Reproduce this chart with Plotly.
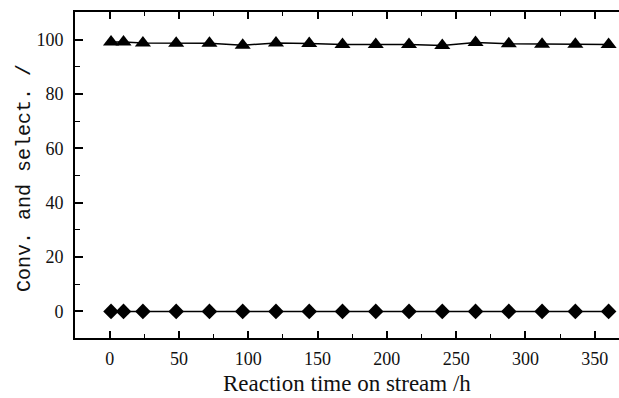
import plotly.graph_objects as go

time_h = [1, 10, 24, 48, 72, 96, 120, 144, 168, 192, 216, 240, 264, 288, 312, 336, 360]
selectivity = [99.2, 99.2, 98.8, 98.7, 98.7, 98.0, 98.8, 98.6, 98.2, 98.2, 98.2, 97.9, 99.0, 98.5, 98.3, 98.3, 98.2]
conversion = [0, 0, 0, 0, 0, 0, 0, 0, 0, 0, 0, 0, 0, 0, 0, 0, 0]
x_ticks = [0, 50, 100, 150, 200, 250, 300, 350]
y_ticks = [0, 20, 40, 60, 80, 100]

fig = go.Figure()
fig.add_trace(go.Scatter(
    x=time_h, y=selectivity, mode="lines+markers",
    line=dict(color="black", width=1.5),
    marker=dict(symbol="triangle-up", size=14, color="black"),
    showlegend=False, cliponaxis=False))
fig.add_trace(go.Scatter(
    x=time_h, y=conversion, mode="lines+markers",
    line=dict(color="black", width=1.5),
    marker=dict(symbol="diamond", size=12, color="black"),
    showlegend=False, cliponaxis=False))

serif = "Liberation Serif, Times New Roman, serif"
fig.update_layout(
    width=619, height=398,
    margin=dict(l=75, r=0, t=12, b=60),
    paper_bgcolor="white", plot_bgcolor="white",
    font=dict(family=serif, size=18, color="#111"),
    xaxis=dict(range=[-25, 367.5], tickvals=x_ticks, ticks="inside", ticklen=7,
               tickwidth=1.5, tickcolor="black", showline=True, linecolor="black",
               linewidth=2, mirror="ticks", showgrid=False, zeroline=False,
               minor=dict(dtick=25, tick0=0, ticks="inside", ticklen=4, tickwidth=1.2, tickcolor="black"),
               tickfont=dict(family=serif, size=18, color="#111"), ticklabelstandoff=3),
    yaxis=dict(range=[-9.8, 110.2], tickvals=y_ticks, ticks="inside", ticklen=8,
               tickwidth=1.5, tickcolor="black", showline=True, linecolor="black",
               linewidth=2, mirror=False, showgrid=False, zeroline=False,
               minor=dict(dtick=10, tick0=0, ticks="inside", ticklen=5, tickwidth=1.2, tickcolor="black"),
               tickfont=dict(family=serif, size=18, color="#111"), ticklabelstandoff=6),
    annotations=[
        dict(text="Reaction time on stream /h", xref="paper", yref="paper",
             x=0.5, y=-0.14, xanchor="center", yanchor="middle", showarrow=False,
             font=dict(family=serif, size=23, color="#111")),
        dict(text="Conv. and select. /", xref="paper", yref="paper",
             x=-0.094, y=0.49, xanchor="center", yanchor="middle", showarrow=False,
             textangle=-90,
             font=dict(family="Liberation Mono, monospace", size=20, color="#111")),
    ],
)
fig.write_html("out.html", config={"displayModeBar": False},
               post_script="document.body.style.margin='0';document.body.style.overflow='hidden';")
